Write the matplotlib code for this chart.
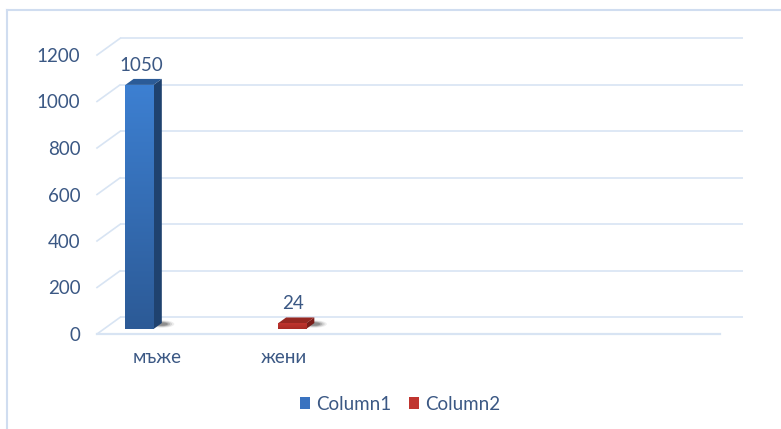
import matplotlib
matplotlib.use("Agg")
import matplotlib.pyplot as plt
import numpy as np
from matplotlib.patches import Polygon, Patch, Ellipse
from matplotlib.lines import Line2D

# ---- data ----
categories = ["мъже", "жени"]
series_names = ["Column1", "Column2"]
column1 = [1050, 0]
column2 = [0, 24]
y_ticks = [0, 200, 400, 600, 800, 1000, 1200]

# ---- style ----
plt.rcParams['font.family'] = ['Lato', 'DejaVu Sans']
TXT = '#3b5884'
GRID = '#d8e4f3'
FS = 13.5
front_cols = [('#3d80d2', '#2c5a96'), ('#c0352f', '#a82b25')]
side_cols = ['#1f426f', '#7a1d19']
top_cols = ['#2b5b97', '#962822']
legend_cols = ['#3a73c0', '#c0352f']

W, H = 781, 429
fig = plt.figure(figsize=(W / 100, H / 100), dpi=100)
ax = fig.add_axes([97 / W, (H - 334) / H, 623 / W, 279 / H])
ax.set_xlim(-0.233, 3.852)
ax.set_ylim(0, 1200)
for s in ax.spines.values():
    s.set_visible(False)

# pixel -> data conversion for the depth offset
p0 = ax.transData.transform((0, 0))
p1 = ax.transData.transform((1, 1))
sx, sy = p1[0] - p0[0], p1[1] - p0[1]
DX, DY = 23 / sx, 16.6 / sy
x0, x1 = ax.get_xlim()

# walls / gridlines
for v in y_ticks:
    ax.plot([x0 + DX, x1 + DX], [v + DY, v + DY], color=GRID, lw=1.2,
            clip_on=False, zorder=1, solid_capstyle='butt')
    ax.plot([x0, x0 + DX], [v, v + DY], color=GRID, lw=1.2,
            clip_on=False, zorder=1)
ax.plot([x0, x1], [0, 0], color=GRID, lw=1.6, clip_on=False, zorder=1)

# ticks
ax.set_yticks(y_ticks)
ax.set_yticklabels([str(v) for v in y_ticks], fontsize=FS, color=TXT)
ax.tick_params(axis='y', length=0, pad=12)
cat_tick_pos = [0.16, 0.99]
ax.set_xticks(cat_tick_pos)
ax.set_xticklabels(categories, fontsize=FS, color=TXT)
ax.tick_params(axis='x', length=0, pad=11)

# 3D bars
f0, dd = 0.30, 0.36
bw = 0.185
all_series = [column1, column2]
for si, vals in enumerate(all_series):
    for ci, v in enumerate(vals):
        if v <= 0:
            continue
        xl = ci - bw / 2 + f0 * DX
        xr = xl + bw
        b = f0 * DY
        t = v + f0 * DY
        # soft shadow behind base
        for k, a in enumerate([0.08, 0.12, 0.18, 0.25]):
            ax.add_patch(Ellipse((xr + 0.35 * DX, b + 0.3 * DY), bw * (0.9 - 0.15 * k),
                                 DY * (0.45 - 0.08 * k),
                                 color='#222222', alpha=a, lw=0, zorder=2))
        bars = ax.bar([ci + f0 * DX], [v], width=bw, bottom=b,
                      color=front_cols[si][1], lw=0, zorder=4)
        # gradient on front face
        grad = np.linspace(0, 1, 256).reshape(-1, 1)
        c_top = np.array(matplotlib.colors.to_rgb(front_cols[si][0]))
        c_bot = np.array(matplotlib.colors.to_rgb(front_cols[si][1]))
        img = c_bot[None, None, :] * (1 - grad[:, :, None]) + c_top[None, None, :] * grad[:, :, None]
        im = ax.imshow(img, extent=[xl, xr, b, t], origin='lower',
                       aspect='auto', zorder=4.5, interpolation='bilinear')
        im.set_clip_path(bars[0])
        ax.add_patch(Polygon([(xr, b), (xr + dd * DX, b + dd * DY),
                              (xr + dd * DX, t + dd * DY), (xr, t)],
                             closed=True, color=side_cols[si], lw=0, zorder=4))
        ax.add_patch(Polygon([(xl, t), (xr, t), (xr + dd * DX, t + dd * DY),
                              (xl + dd * DX, t + dd * DY)],
                             closed=True, color=top_cols[si], lw=0, zorder=4))
        ax.annotate(str(v), (ci + f0 * DX, t), xytext=(1, 14),
                    textcoords='offset points', ha='center', va='center',
                    fontsize=FS, color=TXT)
ax.set_xlim(x0, x1)
ax.set_ylim(0, 1200)

# chart border (cropped at right/bottom)
fig.add_artist(Line2D([7 / W, 1], [1 - 10 / H, 1 - 10 / H], color='#d0ddf0', lw=1.5))
fig.add_artist(Line2D([7 / W, 7 / W], [0, 1 - 10 / H], color='#d0ddf0', lw=1.5))

handles = [Patch(facecolor=legend_cols[i], edgecolor='none', label=series_names[i])
           for i in range(2)]
leg = fig.legend(handles=handles, loc='center', bbox_to_anchor=(400 / W, (H - 404) / H),
                 ncol=2, frameon=False, fontsize=FS, handlelength=0.55,
                 handleheight=0.55, handletextpad=0.35, columnspacing=0.9,
                 labelcolor=TXT)

fig.savefig('out.png', dpi=100, facecolor='white')
